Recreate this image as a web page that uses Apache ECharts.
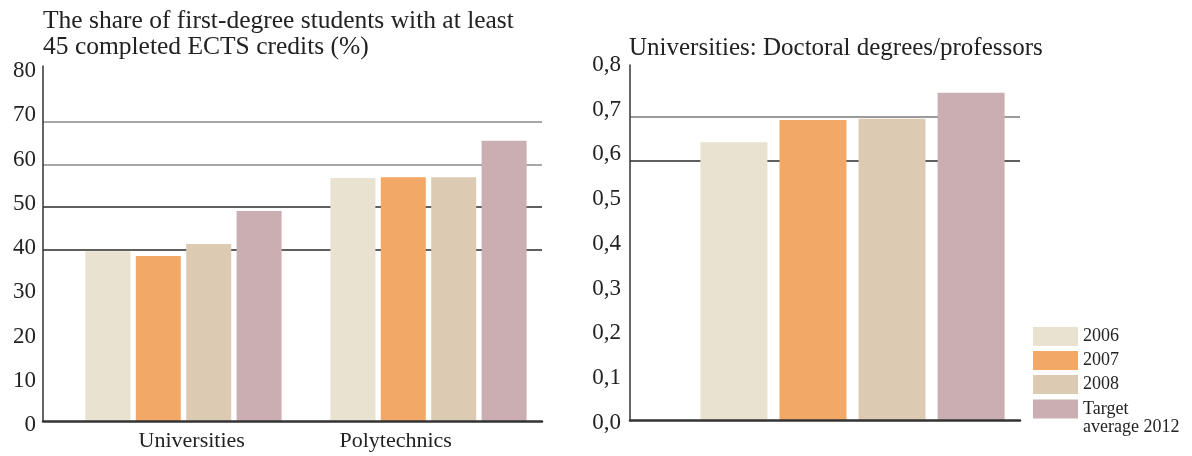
<!DOCTYPE html>
<html>
<head>
<meta charset="utf-8">
<script src="https://cdn.jsdelivr.net/npm/echarts@6/dist/echarts.min.js"></script>
<style>
html,body{margin:0;padding:0;background:#fff;}
#chart{width:1192px;height:456px;}
</style>
</head>
<body>
<div id="chart"></div>
<script>
// ---- data ----
const categories = ['Universities', 'Polytechnics'];
const seriesNames = ['2006', '2007', '2008', 'Target average 2012'];
const ects2006 = [39.7, 56.8];
const ects2007 = [38.6, 57.0];
const ects2008 = [41.4, 57.0];
const ectsTarget = [49.1, 65.5];
const doctoralCategory = [''];
const doctoral2006 = [0.642];
const doctoral2007 = [0.693];
const doctoral2008 = [0.696];
const doctoralTarget = [0.756];
const leftTitle = 'The share of first-degree students with at least\n45 completed ECTS credits (%)';
const rightTitle = 'Universities: Doctoral degrees/professors';

// ---- styles ----
const colors = ['#EAE2D0', '#F2A866', '#DDCAB2', '#CBAEB2'];
const FONT = 'Liberation Serif';
const TXT = '#222';
const T = 'rgba(0,0,0,0)';
const leftGridColors = [T, T, T, T, '#2a2a2a', '#2a2a2a', '#8a8a8a', '#8a8a8a', T, T];
const rightGridColors = [T, T, T, T, T, T, '#2a2a2a', '#7a7a7a', T, T];

const leftData = [ects2006, ects2007, ects2008, ectsTarget];
const rightData = [doctoral2006, doctoral2007, doctoral2008, doctoralTarget];

const chart = echarts.init(document.getElementById('chart'), null, {renderer: 'canvas'});

const hidden = {show: false};
const series = [];
seriesNames.forEach((n, i) => {
  series.push({
    type: 'bar', name: n, xAxisIndex: 1, yAxisIndex: 1,
    data: leftData[i], barWidth: 45, barGap: '12%',
    itemStyle: {color: colors[i]}, silent: true
  });
});
seriesNames.forEach((n, i) => {
  series.push({
    type: 'bar', name: n, xAxisIndex: 4, yAxisIndex: 4,
    data: rightData[i], barWidth: 67, barGap: '18%',
    itemStyle: {color: colors[i]}, silent: true
  });
});

const legendBase = {
  orient: 'vertical', height: 200, padding: 0,
  itemWidth: 45, itemHeight: 19, itemGap: 5, icon: 'rect',
  selectedMode: false,
  textStyle: {fontFamily: FONT, fontSize: 18, color: TXT}
};

const option = {
  animation: false,
  backgroundColor: '#fff',
  title: [
    {text: leftTitle, left: 43, top: 8, padding: 0,
     textStyle: {fontFamily: FONT, fontSize: 25.5, fontWeight: 'normal', color: TXT, lineHeight: 26}},
    {text: rightTitle, left: 629, top: 35, padding: 0,
     textStyle: {fontFamily: FONT, fontSize: 25, fontWeight: 'normal', color: TXT, lineHeight: 26}}
  ],
  legend: [
    Object.assign({}, legendBase, {
      left: 1033, top: 327,
      data: seriesNames.slice(0, 3)
    }),
    Object.assign({}, legendBase, {
      left: 1033, top: 382,
      formatter: n => '\n' + n.replace('Target ', 'Target\n'),
      data: [{name: seriesNames[3], textStyle: {lineHeight: 18}}]
    })
  ],
  grid: [
    {left: 43, top: 66, width: 499, height: 355},      // 0 left gridlines/axes
    {left: 61, top: 66, width: 490, height: 355},      // 1 left bars
    {left: 89.7, top: 71, width: 408, height: 354},    // 2 left labels
    {left: 630, top: 65, width: 390, height: 355.7},   // 3 right gridlines/axes
    {left: 685, top: 65, width: 335, height: 355.7},   // 4 right bars
    {left: 630, top: 65, width: 390, height: 357.7}    // 5 right labels
  ],
  xAxis: [
    {gridIndex: 0, type: 'category', data: categories, z: 5,
     axisLine: {show: true, lineStyle: {color: '#333', width: 2.5}},
     axisTick: hidden, axisLabel: hidden, splitLine: hidden},
    {gridIndex: 1, type: 'category', data: categories, show: false},
    {gridIndex: 2, type: 'category', data: categories,
     axisLine: hidden, axisTick: hidden, splitLine: hidden,
     axisLabel: {show: true, margin: 5, fontFamily: FONT, fontSize: 22, color: TXT}},
    {gridIndex: 3, type: 'category', data: doctoralCategory, z: 5,
     axisLine: {show: true, lineStyle: {color: '#333', width: 2.5}},
     axisTick: hidden, axisLabel: hidden, splitLine: hidden},
    {gridIndex: 4, type: 'category', data: doctoralCategory, show: false},
    {gridIndex: 5, type: 'category', data: doctoralCategory, show: false}
  ],
  yAxis: [
    {gridIndex: 0, type: 'value', min: 0, max: 83, interval: 10,
     axisLine: {show: true, lineStyle: {color: '#333', width: 1.5}},
     axisTick: hidden, axisLabel: hidden,
     splitLine: {show: true, lineStyle: {color: leftGridColors, width: 1.6}}},
    {gridIndex: 1, type: 'value', min: 0, max: 83, show: false},
    {gridIndex: 2, type: 'value', min: 0, max: 80, interval: 10, offset: 46.7,
     axisLine: hidden, axisTick: hidden, splitLine: hidden,
     axisLabel: {show: true, margin: 7, fontFamily: FONT, fontSize: 23, color: TXT}},
    {gridIndex: 3, type: 'value', min: 0, max: 0.82, interval: 0.1,
     axisLine: {show: true, lineStyle: {color: '#333', width: 1.5}},
     axisTick: hidden, axisLabel: hidden,
     splitLine: {show: true, lineStyle: {color: rightGridColors, width: 1.6}}},
    {gridIndex: 4, type: 'value', min: 0, max: 0.82, show: false},
    {gridIndex: 5, type: 'value', min: 0, max: 0.8, interval: 0.1,
     axisLine: hidden, axisTick: hidden, splitLine: hidden,
     axisLabel: {show: true, margin: 9, fontFamily: FONT, fontSize: 23, color: TXT,
       formatter: v => v.toFixed(1).replace('.', ',')}}
  ],
  series: series
};
chart.setOption(option);
</script>
</body>
</html>
